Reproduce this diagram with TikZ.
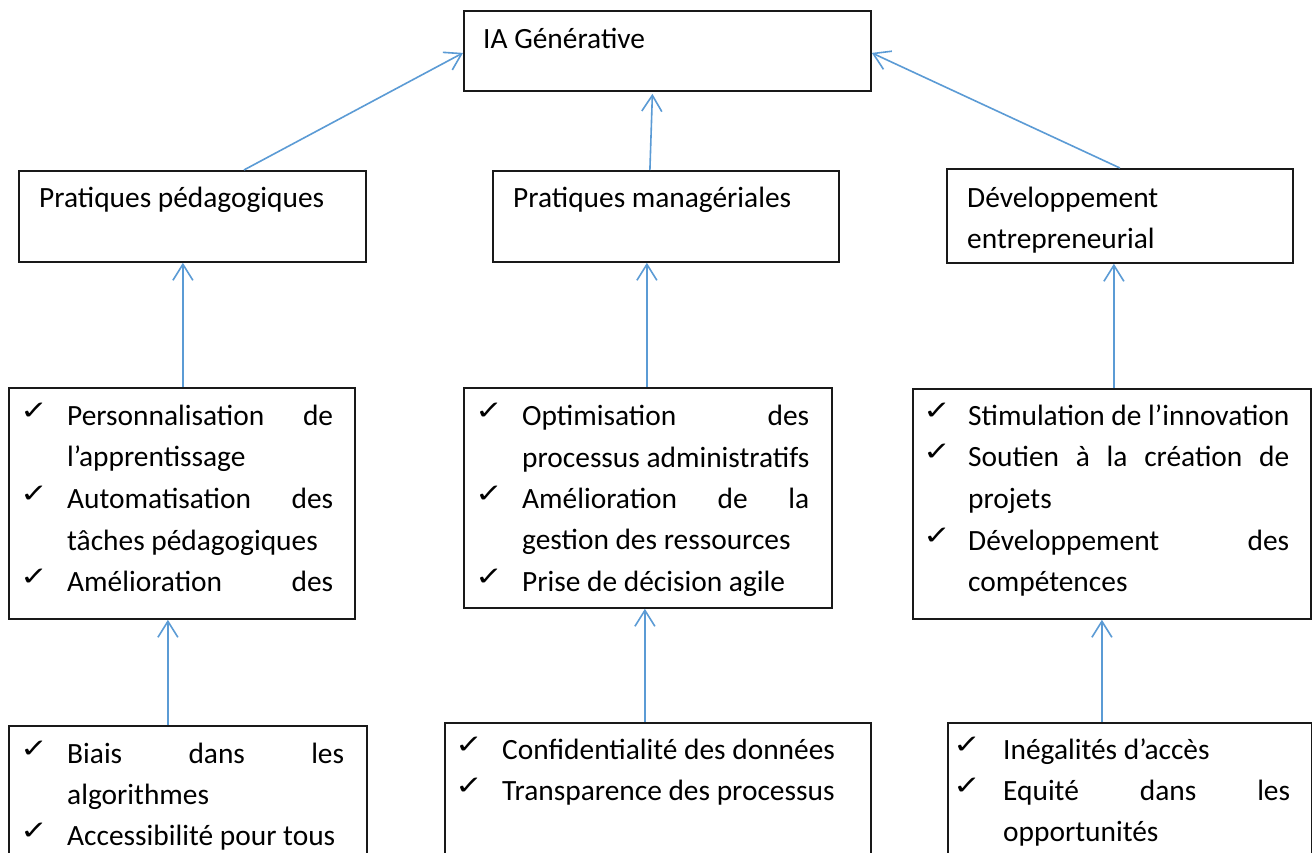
\documentclass[tikz,border=0pt]{standalone}
\usepackage{fontspec}
\setmainfont{Carlito}
\newfontfamily\symfont{DejaVu Sans}
\usetikzlibrary{arrows.meta}
\definecolor{arrowblue}{HTML}{5B9BD5}
\newcommand{\chk}[3]{\node[chk] (#1) at (#2,#3-6) {\scalebox{1.15}[0.9]{✓}};}
\newcommand{\txt}[4]{\node[txt] (#1) at (#2,#3) {#4};}
\begin{document}
\begin{tikzpicture}[x=1pt,y=-1pt,
  box/.style={draw=black!90, line width=1.8pt, anchor=north west, inner sep=0pt},
  conn/.style={draw=arrowblue, line width=1.6pt, -{Straight Barb[length=16pt,width=20pt]}},
  txt/.style={anchor=base west, inner sep=0pt, font=\fontsize{29.4}{41}\selectfont},
  chk/.style={anchor=base west, inner sep=0pt, font=\symfont\fontsize{29}{29}\selectfont}]
\fill[white] (0,0) rectangle (1312,852);
\useasboundingbox (0,0) rectangle (1312,852);
\clip (0,0) rectangle (1312,852);

% boxes
\node[box, minimum width=407pt, minimum height=80pt] (ia) at (463,10) {};
\node[box, minimum width=347pt, minimum height=91pt] (pp) at (18,170) {};
\node[box, minimum width=346pt, minimum height=91pt] (pm) at (492,170) {};
\node[box, minimum width=346pt, minimum height=94pt] (de) at (946,168) {};
\node[box, minimum width=346pt, minimum height=231pt] (r3l) at (8,387) {};
\node[box, minimum width=368pt, minimum height=220pt] (r3m) at (463,387) {};
\node[box, minimum width=398pt, minimum height=230pt] (r3r) at (912,388) {};
\node[box, minimum width=358pt, minimum height=200pt] (r4l) at (8,725) {};
\node[box, minimum width=426pt, minimum height=200pt] (r4m) at (444,722) {};
\node[box, minimum width=364pt, minimum height=200pt] (r4r) at (947,722) {};

% titles
\txt{tia}{483}{48}{IA Générative}
\txt{tpp}{39}{207}{Pratiques pédagogiques}
\txt{tpm}{513}{207}{Pratiques managériales}
\txt{tde1}{967}{207}{Développement}
\txt{tde2}{967}{248}{entrepreneurial}

% row 3 left
\chk{c31a}{20}{425}\txt{t31a}{67}{425}{\makebox[266pt][s]{Personnalisation de}}
\txt{t31b}{67}{466}{l’apprentissage}
\chk{c31c}{20}{508}\txt{t31c}{67}{508}{\makebox[266pt][s]{Automatisation des}}
\txt{t31d}{67}{550}{tâches pédagogiques}
\chk{c31e}{20}{591}\txt{t31e}{67}{591}{\makebox[266pt][s]{Amélioration des}}

% row 3 middle
\chk{c32a}{475}{425}\txt{t32a}{522}{425}{\makebox[287pt][s]{Optimisation des}}
\txt{t32b}{522}{467}{processus administratifs}
\chk{c32c}{475}{508}\txt{t32c}{522}{508}{\makebox[287pt][s]{Amélioration de la}}
\txt{t32d}{522}{549}{gestion des ressources}
\chk{c32e}{475}{591}\txt{t32e}{522}{591}{Prise de décision agile}

% row 3 right
\chk{c33a}{923}{425}\txt{t33a}{968}{425}{Stimulation de l’innovation}
\chk{c33b}{923}{466}\txt{t33b}{968}{466}{\makebox[321pt][s]{Soutien à la création de}}
\txt{t33c}{968}{508}{projets}
\chk{c33d}{923}{550}\txt{t33d}{968}{550}{\makebox[321pt][s]{Développement des}}
\txt{t33e}{968}{591}{compétences}

% row 4 left
\chk{c41a}{20}{763}\txt{t41a}{67}{763}{\makebox[277pt][s]{Biais dans les}}
\txt{t41b}{67}{804}{algorithmes}
\chk{c41c}{20}{845}\txt{t41c}{67}{845}{Accessibilité pour tous}

% row 4 middle
\chk{c42a}{455}{759}\txt{t42a}{502}{759}{Confidentialité des données}
\chk{c42b}{455}{800}\txt{t42b}{502}{800}{Transparence des processus}

% row 4 right
\chk{c43a}{953}{759}\txt{t43a}{1003}{759}{Inégalités d’accès}
\chk{c43b}{953}{800}\txt{t43b}{1003}{800}{\makebox[287pt][s]{Equité dans les}}
\txt{t43c}{1003}{841}{opportunités}

% connectors
\draw[conn] ([xshift=51.5pt]pp.north) -- ([yshift=-2pt]ia.west);
\draw[conn] ([xshift=-16pt]pm.north) -- ([xshift=-15pt,yshift=-2pt]ia.south);
\draw[conn] (de.north) -- ([yshift=-2pt]ia.east);
\draw[conn] ([xshift=1pt]r3l.north) -- ([xshift=1pt]r3l.north |- pp.south);
\draw[conn] ([xshift=-1pt]r3m.north) -- ([xshift=-1pt]r3m.north |- pm.south);
\draw[conn] ([xshift=2pt]r3r.north) -- ([xshift=2pt]r3r.north |- de.south);
\draw[conn] ([xshift=-20pt]r4l.north) -- ([xshift=-20pt]r4l.north |- r3l.south);
\draw[conn] ([xshift=-13pt]r4m.north) -- ([xshift=-13pt]r4m.north |- r3m.south);
\draw[conn] ([xshift=-28pt]r4r.north) -- ([xshift=-28pt]r4r.north |- r3r.south);
\end{tikzpicture}
\end{document}
